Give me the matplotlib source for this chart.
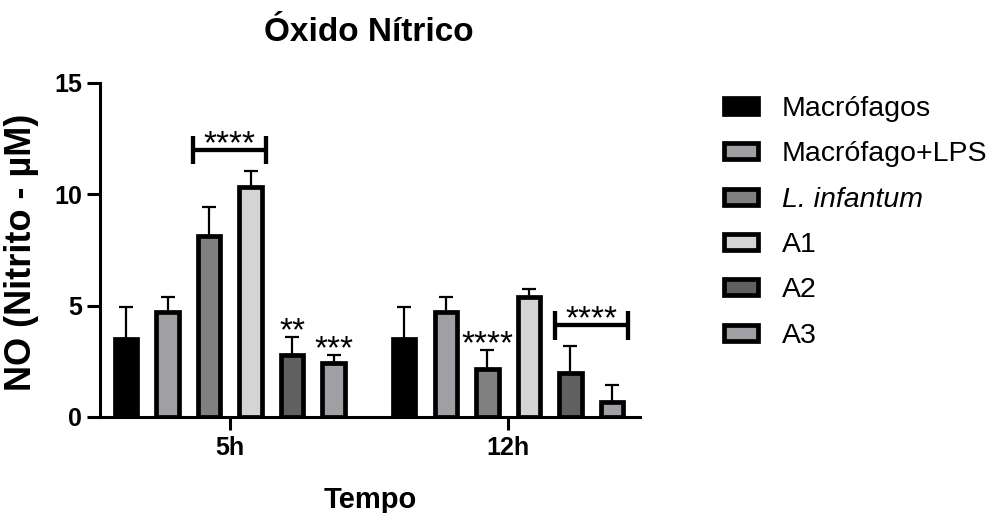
import matplotlib
matplotlib.use('Agg')
import matplotlib.pyplot as plt
from matplotlib.patches import Patch
import numpy as np

plt.rcParams['font.family'] = ['Liberation Sans', 'DejaVu Sans']

# ---- data ----
groups = ['5h', '12h']
series = ['Macrófagos', 'Macrófago+LPS', 'L. infantum', 'A1', 'A2', 'A3']
means_5h = [3.5, 4.7, 8.15, 10.35, 2.78, 2.42]
err_5h = [1.45, 0.7, 1.28, 0.7, 0.82, 0.38]
means_12h = [3.5, 4.7, 2.14, 5.4, 1.99, 0.69]
err_12h = [1.45, 0.67, 0.86, 0.33, 1.2, 0.75]
colors = ['#000000', '#a0a0a4', '#808080', '#d4d4d4', '#606060', '#a0a0a4']
y_ticks = [0, 5, 10, 15]
# single-bar significance marks: (group index, series index, label)
sig_single = [(0, 4, '**'), (0, 5, '***'), (1, 2, '****')]
# bracket significance: (group index, first series, last series, label)
sig_bracket = [(0, 2, 3, '****'), (1, 4, 5, '****')]

means = [means_5h, means_12h]
errs = [err_5h, err_12h]

W, H = 999, 513
fig = plt.figure(figsize=(W / 100, H / 100), dpi=100)
ax = fig.add_axes([100 / W, 1 - 417 / H, 540 / W, 334 / H])

group_centers = [2.5, 9.2]
bar_w = 0.54
edge_lw = 3.4
n = len(series)

def xpos(g, i):
    return group_centers[g] + (i - (n - 1) / 2)

for i in range(n):
    xs = [xpos(g, i) for g in range(len(groups))]
    ys = [means[g][i] for g in range(len(groups))]
    es = [errs[g][i] for g in range(len(groups))]
    ax.errorbar(xs, ys, yerr=[[0] * len(xs), es], fmt='none', ecolor='black',
                elinewidth=1.6, capsize=4.8, capthick=1.6, zorder=2)
    ax.bar(xs, ys, width=bar_w, color=colors[i], edgecolor='black',
           linewidth=edge_lw, zorder=3)

star_fs = 24
def star(x, y, label):
    ax.annotate(label, xy=(x, y), xytext=(0, -0.58 * star_fs), textcoords='offset points',
                ha='center', va='baseline', fontsize=star_fs, zorder=5)

for g, i, lab in sig_single:
    top = means[g][i] + errs[g][i]
    star(xpos(g, i), top + 0.72, lab)

for g, i0, i1, lab in sig_bracket:
    top = max(means[g][k] + errs[g][k] for k in range(i0, i1 + 1))
    yb = top + 0.95
    x0 = xpos(g, i0) - 0.38
    x1 = xpos(g, i1) + 0.38
    ax.plot([x0, x1], [yb, yb], color='black', lw=3.1, solid_capstyle='butt', zorder=4)
    for xe in (x0, x1):
        ax.plot([xe, xe], [yb - 0.66, yb + 0.64], color='black', lw=3.1,
                solid_capstyle='butt', zorder=4)
    star((x0 + x1) / 2, yb + 0.7, lab)

ax.set_xlim(-0.625, 12.375)
ax.set_ylim(0, 15)
ax.set_yticks(y_ticks)
ax.set_yticklabels([str(t) for t in y_ticks], fontsize=18, fontweight='bold')
ax.set_xticks(group_centers)
ax.set_xticklabels(groups, fontsize=18, fontweight='bold')
for s in ['top', 'right']:
    ax.spines[s].set_visible(False)
for s in ['left', 'bottom']:
    ax.spines[s].set_linewidth(2.2)
    ax.spines[s].set_zorder(6)
ax.tick_params(axis='both', length=9.4, width=2.2, direction='out')
ax.tick_params(axis='y', pad=3.5)
ax.tick_params(axis='x', pad=4)

fig.text(369 / W, 1 - 41 / H, 'Óxido Nítrico', ha='center', va='baseline',
         fontsize=24, fontweight='bold')
fig.text(370 / W, 1 - 508 / H, 'Tempo', ha='center', va='baseline',
         fontsize=21, fontweight='bold')
fig.text(22 / W, 1 - 252 / H, 'NO (Nitrito - µM)', ha='center', va='center',
         rotation=90, fontsize=26, fontweight='bold')

handles = [Patch(facecolor=c, edgecolor='black', linewidth=3.4) for c in colors]
leg = fig.legend(handles, series, loc='upper left', bbox_to_anchor=(724 / W, 1 - 96 / H),
                 frameon=False, fontsize=20.5, borderpad=0, borderaxespad=0,
                 handlelength=1.2, handleheight=0.5, handletextpad=0.82,
                 labelspacing=0.68)
leg.get_texts()[2].set_fontstyle('italic')

fig.savefig('out.png', dpi=100)
